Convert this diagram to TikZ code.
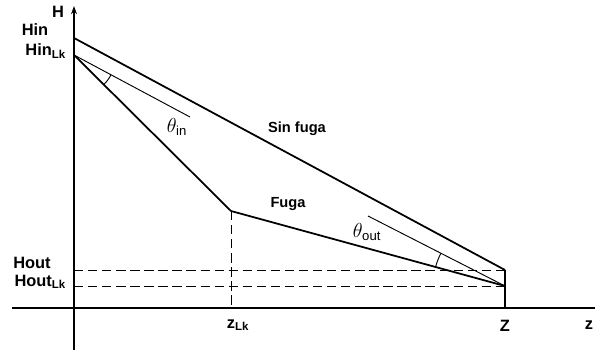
\documentclass[tikz,border=0pt]{standalone}
\usepackage{amsmath}
\usepackage{fontspec}
\setmainfont{Liberation Sans}
\usetikzlibrary{arrows.meta, angles}

\begin{document}
\begin{tikzpicture}[
    x=0.03cm, y=0.03cm,
    axis/.style={line width=2.2pt},
    pipe/.style={line width=1.5pt},
    guide/.style={line width=0.8pt},
    level/.style={line width=0.8pt, dash pattern=on 8pt off 4pt},
    lbl/.style={font=\fontsize{14}{16}\selectfont\bfseries},
    tag/.style={font=\fontsize{12.5}{14}\selectfont\bfseries},
    ang/.style={font=\fontsize{16}{18}\selectfont}
]
\useasboundingbox (0,0) rectangle (595,354);

% Points
\coordinate (hin) at (74,316);
\coordinate (hinlk) at (74,299);
\coordinate (bend) at (231,143);
\coordinate (hout) at (505,84);
\coordinate (houtlk) at (505,68);
\coordinate (houtaxis) at (74,84);
\coordinate (houtlkaxis) at (74,68);
\coordinate (zlk) at (231,46);
\coordinate (zend) at (505,46);
\coordinate (intip) at (190,237);
\coordinate (outtip) at (368,138);
\coordinate (ytop) at (74,348);
\coordinate (ybot) at (74,4);
\coordinate (xleft) at (12,46);
\coordinate (xright) at (600,46);

% Levels
\draw[level] (houtaxis) -- (hout);
\draw[level] (houtlkaxis) -- (houtlk);
\draw[level] (bend) -- (zlk);

% Axes
\draw[axis, -{Stealth[length=7pt,width=5pt]}] (ybot) -- (ytop);
\draw[axis] (xleft) -- (xright);

% Profiles
\draw[pipe] (hin) -- (hout);
\draw[pipe] (hinlk) -- (bend) -- (houtlk);
\draw[guide, line width=1.1pt] (hout) -- (zend);

% Angles
\draw[guide] (hinlk) -- (intip);
\draw[guide] (houtlk) -- (outtip);
\pic[draw, guide, angle radius=1.26cm] {angle=bend--hinlk--intip};
\pic[draw, guide, angle radius=2.16cm] {angle=outtip--houtlk--bend};

% Labels
\node[lbl] (hlabel) at (58,342) {H};
\node[lbl] (hinlabel) at (35,324) {Hin};
\node[lbl, anchor=east] (hinlklabel) at (70,303) {Hin$_{\text{Lk}}$};
\node[lbl] (houtlabel) at (32,91) {Hout};
\node[lbl, anchor=east] (houtlklabel) at (70,72) {Hout$_{\text{Lk}}$};
\node[lbl] (zlklabel) at (238,29) {z$_{\text{Lk}}$};
\node[lbl] (zlabel) at (505,28) {Z};
\node[lbl] (xlabel) at (589,29) {z};
\node[tag] (sinfuga) at (297,225) {Sin fuga};
\node[tag] (fuga) at (288,150) {Fuga};
\node[ang] (thetain) at (177,227) {$\theta_{\text{in}}$};
\node[ang] (thetaout) at (367,122) {$\theta_{\text{out}}$};
\end{tikzpicture}
\end{document}
